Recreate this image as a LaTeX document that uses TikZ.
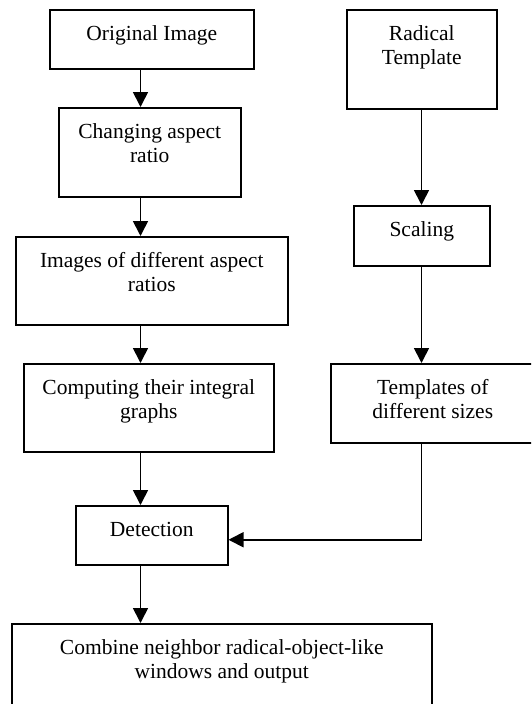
\documentclass[tikz,border=0pt]{standalone}
\usepackage{fontspec}
\setmainfont{Liberation Serif}
\usetikzlibrary{arrows.meta}
\newcommand{\toptext}[3]{\parbox[b][#2][t]{#1}{\centering\rule{0pt}{30.5pt}#3}}

\begin{document}
\begin{tikzpicture}[x=1pt,y=-1pt,
  stage/.style={draw,line width=1.5pt,inner sep=0pt,anchor=north west,font=\fontsize{21.5}{24.5}\selectfont},
  flow/.style={line width=1.7pt,-{Triangle[length=15pt,width=15pt]}}]
\useasboundingbox (0,0) rectangle (531,704);
\clip (0,0) rectangle (531,704);
% left column
\node[stage] (orig) at (49,9) {\toptext{204pt}{59pt}{Original Image}};
\node[stage] (change) at (58,107) {\toptext{182pt}{89pt}{Changing aspect\\ ratio}};
\node[stage] (images) at (15,236) {\toptext{272pt}{88pt}{Images of different aspect\\ ratios}};
\node[stage] (integral) at (23,363) {\toptext{250pt}{88pt}{Computing their integral\\ graphs}};
\node[stage] (detect) at (75,505) {\toptext{152pt}{59pt}{Detection}};
\node[stage] (combine) at (11,623) {\toptext{420pt}{100pt}{Combine neighbor radical-object-like\\ windows and output}};
% right column
\node[stage] (radical) at (346,9) {\toptext{150pt}{99pt}{Radical\\ Template}};
\node[stage] (scaling) at (353,205) {\toptext{136pt}{60pt}{Scaling}};
\node[stage] (sizes) at (330,363) {\toptext{204pt}{79pt}{Templates of\\ different sizes}};
\coordinate (lcol) at (140.5,0);
\coordinate (rcol) at (421.5,0);
% arrows
\draw[flow] (orig.south -| lcol) -- (change.north -| lcol);
\draw[flow] (change.south -| lcol) -- (images.north -| lcol);
\draw[flow] (images.south -| lcol) -- (integral.north -| lcol);
\draw[flow] (integral.south -| lcol) -- (detect.north -| lcol);
\draw[flow] (detect.south -| lcol) -- (combine.north -| lcol);
\draw[flow] (radical.south -| rcol) -- (scaling.north -| rcol);
\draw[flow] (scaling.south -| rcol) -- (sizes.north -| rcol);
\draw[flow] (sizes.south -| rcol) |- ([yshift=-4.5pt]detect.east);
\end{tikzpicture}
\end{document}
